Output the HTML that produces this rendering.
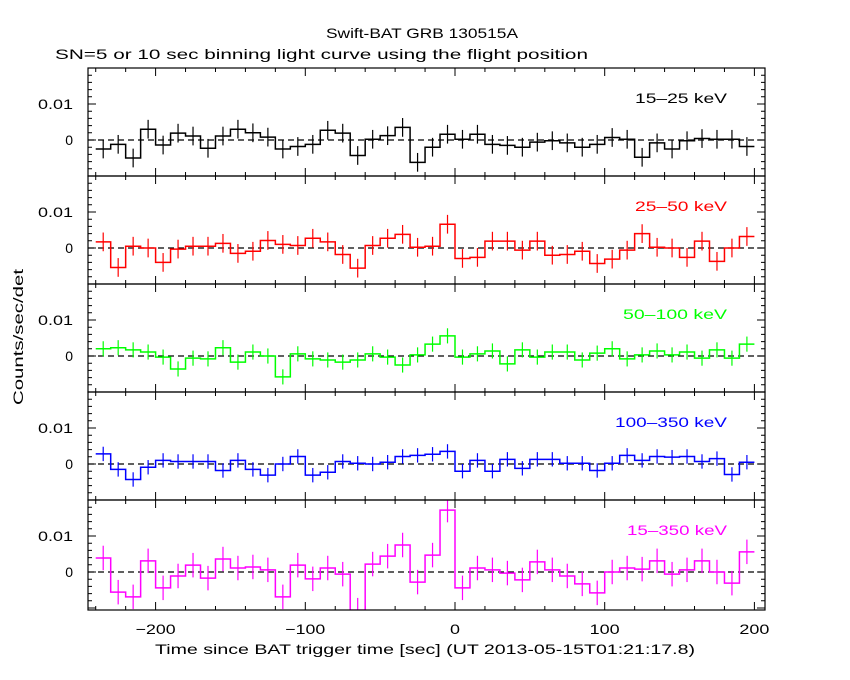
<!DOCTYPE html>
<html><head><meta charset="utf-8"><style>
body{margin:0;background:#fff}
svg{display:block;font-family:"Liberation Sans",sans-serif}
</style></head><body>
<svg id="c" width="850" height="680"></svg>
<script>
const tStart=-240, binW=10;
const band1=[-2.5,-1.2,-5.0,3.0,-1.4,1.9,1.1,-2.3,1.1,3.0,2.0,0.8,-2.5,-1.8,-1.2,2.7,1.9,-4.3,0.2,1.2,3.5,-6.2,-2.0,1.6,0.2,1.6,-1.2,-1.5,-2.0,-0.6,-0.2,-0.8,-2.0,-1.2,0.7,0.2,-4.8,-0.8,-2.5,-0.2,0.4,0.2,0.2,-1.8];
const band2=[1.7,-5.4,0.5,0,-4.0,-0.3,0.5,0.5,1.3,-1.5,-0.9,2.1,1.0,0.7,2.7,1.7,-1.8,-5.6,0.7,2.7,3.8,0.2,0.5,6.6,-2.9,-2.6,1.9,1.9,-0.6,1.9,-2.0,-1.8,-0.9,-4.3,-3.1,-0.6,4.0,0.2,0,-2.6,1.9,-3.7,0,3.2];
const band3=[2.0,2.3,1.7,1.1,-0.3,-3.6,-0.6,-0.8,2.3,-1.7,1.1,0,-5.8,0.6,-0.8,-1.1,-1.7,-1.1,0.6,-0.3,-2.5,0.3,3.3,5.6,-0.3,0.6,1.4,-2.2,1.7,-0.3,1.1,1.1,-1.1,0.8,2.0,-0.8,0.3,1.4,0.3,1.1,-0.6,1.7,-0.6,3.3];
const band4=[2.8,-1.5,-4.3,-0.9,1.0,0.7,0.7,0.7,-1.8,1.0,-1.5,-3.1,0,2.1,-3.1,-2.3,0.7,0.2,0,0.5,2.1,2.4,2.7,3.5,-2.0,1.0,-2.0,1.3,-1.2,1.3,1.3,0.2,0.2,-1.8,0.2,2.4,1.0,2.1,1.9,2.1,0.7,1.5,-2.9,0.5];
const band5=[3.9,-5.6,-6.9,3.1,-4.4,-1.1,1.9,-1.7,3.6,1.1,1.4,0.6,-6.9,1.9,-1.9,1.1,-0.6,-10.6,2.2,4.4,7.5,-2.8,4.7,17.2,-4.4,1.1,0.6,-0.3,-2.2,2.8,0.6,-1.1,-3.3,-5.8,0,1.1,0.8,3.1,-0.6,0.6,3.1,0,-3.1,5.6];
const bandErr=[2.6,2.6,2.1,2.0,3.4];
const bandLabels=["15\u201325 keV","25\u201350 keV","50\u2013100 keV","100\u2013350 keV","15\u2013350 keV"];
const bandColors=["#000","#f00","#0f0","#00f","#f0f"];
const xTicks=[-200,-100,0,100,200];
const yTicks=[0,0.01];

const svg=document.getElementById('c');
const NS='http://www.w3.org/2000/svg';
function mk(tag,attrs,parent){const e=document.createElementNS(NS,tag);for(const k in attrs)e.setAttribute(k,attrs[k]);(parent||svg).appendChild(e);return e;}
const X0=88,X1=765;
const xs=t=>455+(t)*1.497;
const tops=[68,176,284,392,500];
const bots=[176,284,392,500,610];
const ys=(p,v)=>tops[p]+72-v*3600;
const data=[band1,band2,band3,band4,band5];
const labelLens=[92,92,104,112,100];

let t=mk('text',{x:326,y:38,'font-size':14,textLength:192,lengthAdjust:'spacingAndGlyphs'});t.textContent='Swift-BAT GRB 130515A';

t=mk('text',{x:55,y:59,'font-size':14,textLength:533,lengthAdjust:'spacingAndGlyphs'});t.textContent='SN=5 or 10 sec binning light curve using the flight position';

t=mk('text',{x:0,y:0,'font-size':14,textLength:136,lengthAdjust:'spacingAndGlyphs',transform:'translate(23 405) rotate(-90)'});t.textContent='Counts/sec/det';

t=mk('text',{x:155,y:654,'font-size':14,textLength:540,lengthAdjust:'spacingAndGlyphs'});t.textContent='Time since BAT trigger time [sec] (UT 2013-05-15T01:21:17.8)';


for(let p=0;p<5;p++){
  const g=mk('g',{});
  
  
  const top=tops[p],bot=bots[p];
  let d='';
  for(let tv=-240;tv<=200;tv+=20){const x=xs(tv);const L=(tv%100===0)?8:4;d+=`M${x},${top}v${L}M${x},${bot}v${-L}`;}
  for(let v=-0.01;v<=0.02001;v+=0.002){const y=ys(p,v);if(y<top||y>bot)continue;const L=(Math.abs(Math.round(v*1000)%10)===0)?8:4;d+=`M${X0},${y}h${L}M${X1},${y}h${-L}`;}
  mk('path',{d:d,stroke:'#000','stroke-width':1,fill:'none'},g);
  mk('line',{x1:X0,x2:X1,y1:ys(p,0),y2:ys(p,0),stroke:'#000','stroke-dasharray':'6,4','stroke-width':1.2},g);
  yTicks.forEach(v=>{const l=mk('text',{x:73,y:ys(p,v)+5,'text-anchor':'end','font-size':14},g);l.textContent=v===0?'0':'0.01';
    if(v!==0){l.setAttribute('textLength',35);l.setAttribute('lengthAdjust','spacingAndGlyphs');}
    });
  const arr=data[p],col=bandColors[p];
  let sd='';
  const cp=mk('clipPath',{id:'cp'+p},g);mk('rect',{x:X0,y:top,width:X1-X0,height:bot-top},cp);
  const sg=mk('g',{'clip-path':`url(#cp${p})`},g);
  arr.forEach((v,i)=>{const xa=xs(tStart+i*binW),xb=xs(tStart+(i+1)*binW),y=ys(p,v/1000);
    sd+=(i===0?`M${xa},${y}`:`V${y}`)+`H${xb}`;
    const e=mk('line',{x1:(xa+xb)/2,x2:(xa+xb)/2,y1:ys(p,(v+bandErr[p])/1000),y2:ys(p,(v-bandErr[p])/1000),stroke:col,'stroke-width':1.2},sg);
    
    
  });
  const s=mk('path',{d:sd,stroke:col,'stroke-width':1.5,fill:'none'},sg);
  
  
  mk('rect',{x:X0,y:top,width:X1-X0,height:bot-top,fill:'none',stroke:'#000','stroke-width':1.2},g);
  const lb=mk('text',{x:727,y:top+35,'text-anchor':'end','font-size':14,fill:col,textLength:labelLens[p],lengthAdjust:'spacingAndGlyphs'},g);lb.textContent=bandLabels[p];
  
}
xTicks.forEach(v=>{const l=mk('text',{x:xs(v),y:634,'text-anchor':'middle','font-size':14,textLength:v===0?10:(v<0?40:30),lengthAdjust:'spacingAndGlyphs'});l.textContent=v<0?'\u2212'+(-v):String(v);
  });
</script>
</body></html>
